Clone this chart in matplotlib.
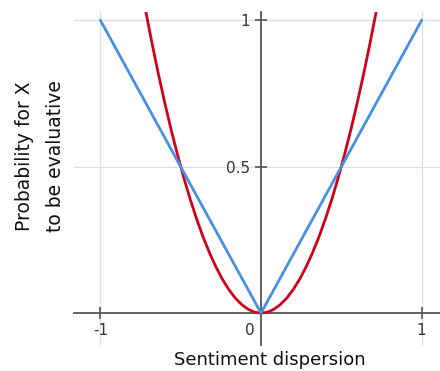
import matplotlib
matplotlib.use("Agg")
import matplotlib.pyplot as plt

# Data
blue_x = [-1.0, 0.0, 1.0]
blue_y = [1.0, 0.0, 1.0]
red_x = [-0.72, -0.68, -0.64, -0.60, -0.56, -0.52, -0.48, -0.44, -0.40, -0.36,
         -0.32, -0.28, -0.24, -0.20, -0.16, -0.12, -0.08, -0.04, 0.0,
         0.04, 0.08, 0.12, 0.16, 0.20, 0.24, 0.28, 0.32, 0.36, 0.40,
         0.44, 0.48, 0.52, 0.56, 0.60, 0.64, 0.68, 0.72]
red_y = [1.037, 0.925, 0.819, 0.720, 0.627, 0.541, 0.461, 0.387, 0.320, 0.259,
         0.205, 0.157, 0.115, 0.080, 0.051, 0.029, 0.013, 0.003, 0.0,
         0.003, 0.013, 0.029, 0.051, 0.080, 0.115, 0.157, 0.205, 0.259, 0.320,
         0.387, 0.461, 0.541, 0.627, 0.720, 0.819, 0.925, 1.037]
x_ticks = [-1, 1]
x_tick_labels = ["-1", "1"]
y_ticks = [0.5, 1]
y_tick_labels = ["0.5", "1"]

plt.rcParams['font.family'] = ['DejaVu Sans']

fig = plt.figure(figsize=(4.4, 3.71), dpi=100)
W, H = 440, 371
ax_left, ax_right, ax_top, ax_bottom = 74, 440, 12, 345
ax = fig.add_axes([ax_left / W, 1 - ax_bottom / H, (ax_right - ax_left) / W, (ax_bottom - ax_top) / H])

ax.set_xlim(-1.165, 1.115)
ax.set_ylim(-0.109, 1.029)

spine_col = "#555555"
for s in ["top", "right"]:
    ax.spines[s].set_visible(False)
ax.spines["left"].set_position(("data", 0))
ax.spines["bottom"].set_position(("data", 0))
for s in ["left", "bottom"]:
    ax.spines[s].set_color(spine_col)
    ax.spines[s].set_linewidth(1.3)

ax.grid(True, color="#dddddd", linewidth=0.9)
ax.set_axisbelow(True)

ax.set_xticks(x_ticks)
ax.set_xticklabels(x_tick_labels)
ax.set_yticks(y_ticks)
ax.set_yticklabels(y_tick_labels)
ax.tick_params(axis="both", direction="inout", length=8, width=1.2, color=spine_col,
               labelsize=11, labelcolor="#333333")
ax.tick_params(axis="x", pad=3)
ax.tick_params(axis="y", pad=4)

ax.plot(red_x, red_y, color="#d0021b", linewidth=2.0, zorder=3)
ax.plot(blue_x, blue_y, color="#4a90e2", linewidth=2.0, zorder=4)

ax.text(-0.04, -0.035, "0", ha="right", va="top", fontsize=11, color="#333333")

fig.text(270 / W, 1 - 360 / H, "Sentiment dispersion", ha="center", va="center",
         fontsize=13, color="#111111")
fig.text(40 / W, 1 - 156 / H, "Probability for X\nto be evaluative", ha="center", va="center",
         rotation=90, fontsize=13.5, color="#111111", linespacing=1.85)

fig.savefig("out.png", dpi=100)
